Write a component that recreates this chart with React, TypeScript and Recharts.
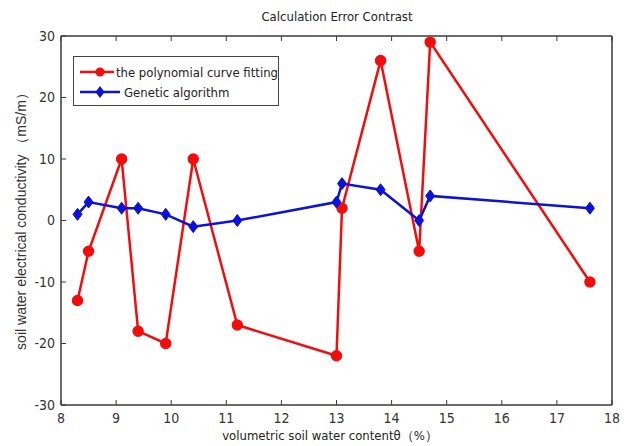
import React from 'react';
import { LineChart, Line, XAxis, YAxis } from 'recharts';

const waterContent = [8.3, 8.5, 9.1, 9.4, 9.9, 10.4, 11.2, 13.0, 13.1, 13.8, 14.5, 14.7, 17.6];
const polyError = [-13, -5, 10, -18, -20, 10, -17, -22, 2, 26, -5, 29, -10];
const gaError = [1, 3, 2, 2, 1, -1, 0, 3, 6, 5, 0, 4, 2];
const xTicks = [8, 9, 10, 11, 12, 13, 14, 15, 16, 17, 18];
const yTicks = [-30, -20, -10, 0, 10, 20, 30];
const seriesNames = ['the polynomial curve fitting', 'Genetic algorithm'];

const data = waterContent.map((x, i) => ({ x, poly: polyError[i], ga: gaError[i] }));

const RED = '#f20d0d';
const BLUE = '#0c12d6';
const AXIS = '#3a3a3a';
const NARROW = '"Liberation Sans Narrow", "DejaVu Sans Condensed", "Liberation Sans", Arial, sans-serif';

const tickStyle = { fontSize: 14, fill: '#333', fontFamily: NARROW, fontStretch: 'condensed' };

function Diamond(props: any) {
    const { cx, cy } = props;
    if (cx == null || cy == null) return null;
    return (
        <polygon
            points={`${cx},${cy - 6} ${cx + 4.5},${cy} ${cx},${cy + 6} ${cx - 4.5},${cy}`}
            fill={BLUE}
            stroke={BLUE}
        />
    );
}

function LegendBox() {
    const items = [
        { name: seriesNames[0], color: RED, shape: 'circle' },
        { name: seriesNames[1], color: BLUE, shape: 'diamond' },
    ];
    return (
        <div style={{
            position: 'absolute', left: 73, top: 56, width: 206, height: 50, boxSizing: 'border-box',
            border: '1px solid #444', background: '#fff', padding: '5px 0 0 6px',
        }}>
            {items.map((p) => (
                <div key={p.name} style={{ display: 'flex', alignItems: 'center', height: 20 }}>
                    <svg width={42} height={14}>
                        <line x1={0} y1={7} x2={40} y2={7} stroke={p.color} strokeWidth={2.5} />
                        {p.shape === 'circle'
                            ? <circle cx={20} cy={7} r={4.5} fill={p.color} />
                            : <polygon points="20,1 24.5,7 20,13 15.5,7" fill={p.color} />}
                    </svg>
                    <span style={{ fontFamily: NARROW, fontStretch: 'condensed', fontSize: 13, color: '#222', marginLeft: 2, whiteSpace: 'nowrap' }}>{p.name}</span>
                </div>
            ))}
        </div>
    );
}

export default function App() {
    return (
        <div style={{ position: 'absolute', left: 0, top: 0, width: 624, height: 446, background: '#fff' }}>
            <div style={{ position: 'absolute', left: 0, width: 674, top: 9, textAlign: 'center', fontFamily: NARROW, fontStretch: 'condensed', fontSize: 13, color: '#222' }}>
                Calculation Error Contrast
            </div>
            <LineChart width={624} height={446} data={data} margin={{ top: 35, right: 11, left: 0, bottom: 0 }}>
                <XAxis
                    dataKey="x"
                    type="number"
                    domain={[8, 18]}
                    ticks={xTicks}
                    interval={0}
                    height={41}
                    tickSize={-5}
                    tickMargin={13}
                    tick={tickStyle}
                    axisLine={{ stroke: AXIS, strokeWidth: 1.5 }}
                    tickLine={{ stroke: AXIS }}
                />
                <XAxis
                    xAxisId="top"
                    orientation="top"
                    dataKey="x"
                    type="number"
                    domain={[8, 18]}
                    ticks={xTicks}
                    interval={0}
                    height={1}
                    tickSize={-5}
                    tick={() => <g />}
                    axisLine={{ stroke: AXIS, strokeWidth: 1.5 }}
                    tickLine={{ stroke: AXIS }}
                />
                <YAxis
                    type="number"
                    domain={[-30, 30]}
                    ticks={yTicks}
                    interval={0}
                    width={61}
                    tickSize={-5}
                    tickMargin={11}
                    tick={tickStyle}
                    axisLine={{ stroke: AXIS, strokeWidth: 1.5 }}
                    tickLine={{ stroke: AXIS }}
                />
                <YAxis
                    yAxisId="right"
                    orientation="right"
                    type="number"
                    domain={[-30, 30]}
                    ticks={yTicks}
                    interval={0}
                    width={1}
                    tickSize={-5}
                    tick={() => <g />}
                    axisLine={{ stroke: AXIS, strokeWidth: 1.5 }}
                    tickLine={{ stroke: AXIS }}
                />
                <Line
                    dataKey="poly"
                    name={seriesNames[0]}
                    stroke={RED}
                    strokeWidth={2.5}
                    dot={{ r: 4.5, fill: RED, stroke: RED }}
                    activeDot={false}
                    isAnimationActive={false}
                />
                <Line
                    dataKey="ga"
                    name={seriesNames[1]}
                    stroke={BLUE}
                    strokeWidth={2.5}
                    dot={<Diamond />}
                    activeDot={false}
                    isAnimationActive={false}
                />
            </LineChart>
            <LegendBox />
            <div style={{ position: 'absolute', left: 0, width: 660, top: 427, textAlign: 'center', fontFamily: NARROW, fontStretch: 'condensed', fontSize: 13, color: '#222' }}>
                volumetric soil water contentθ（%）
            </div>
            <div style={{ position: 'absolute', left: 22, top: 218, width: 0, height: 0 }}>
                <div
                    style={{
                        position: 'absolute', left: 0, top: 0, transform: 'translate(-50%, -50%) rotate(-90deg)',
                        whiteSpace: 'nowrap', fontFamily: '"Liberation Sans", Arial, sans-serif', fontSize: 14, color: '#333',
                    }}
                >
                    soil water electrical conductivity （mS/m）
                </div>
            </div>
        </div>
    );
}
